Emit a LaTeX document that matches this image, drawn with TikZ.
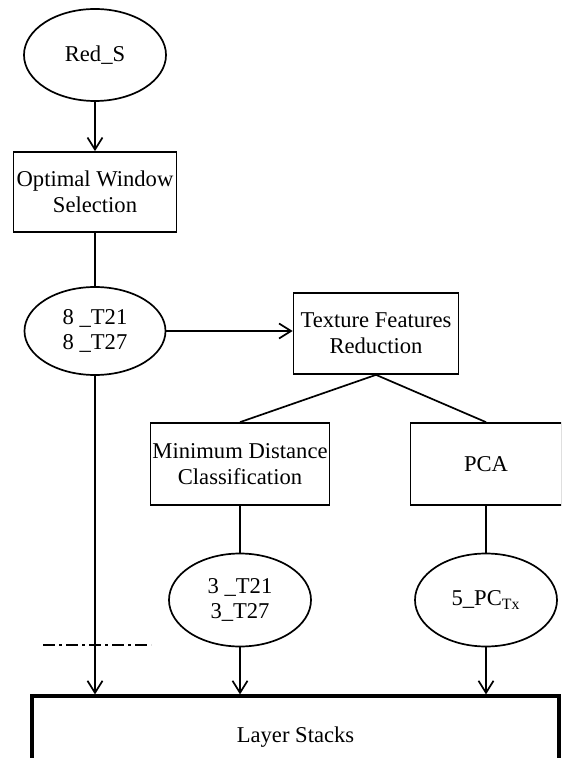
\documentclass[tikz,border=0pt]{standalone}
\usepackage{fontspec}
\setmainfont{Liberation Serif}
\usetikzlibrary{arrows.meta,shapes.geometric}

\tikzset{
  every node/.style={font=\fontsize{11.3}{12.8}\selectfont, align=center, inner sep=1pt},
  oval/.style={ellipse, draw, line width=0.85pt, minimum width=71pt, minimum height=46pt},
  procbox/.style={rectangle, draw, line width=0.85pt},
  link/.style={line width=0.85pt},
  flow/.style={link, -{Straight Barb[length=6pt,width=7.5pt,line width=0.85pt]}},
}

\begin{document}
\begin{tikzpicture}[x=0.5pt, y=-0.5pt]
  \useasboundingbox (0,0) rectangle (561,758);
  \clip (0,0) rectangle (561,758);

  % nodes
  \node[oval] (reds) at (95,55) {Red\_S};
  \node[procbox, minimum width=81.5pt, minimum height=40pt] (ows) at (95,192)
       {Optimal Window\\Selection};
  \node[oval, minimum width=70.5pt, minimum height=44pt] (t8) at (95,331)
       {8 \_T21\\8 \_T27};
  \node[procbox, minimum width=82.5pt, minimum height=40.5pt] (tfr) at (376,333.5)
       {Texture Features\\Reduction};
  \node[procbox, minimum width=87pt, minimum height=41pt] (mdc) at (240,464)
       {Minimum Distance\\Classification};
  \node[procbox, minimum width=75.5pt, minimum height=41pt] (pca) at (486,464) {PCA};
  \node[oval, minimum height=46.5pt] (t3) at (240,600) {3 \_T21\\3\_T27};
  \node[oval, minimum height=46.5pt] (pc5) at (486,600) {5\_PC\textsubscript{Tx}};
  \node[procbox, line width=1.6pt, minimum width=263.5pt, minimum height=41pt] (layer)
       at (295.5,737) {Layer Stacks};

  % dash-dot marker line
  \coordinate (dl) at (43,645);
  \coordinate (dr) at (151,645);
  \draw[link, dash pattern=on 6pt off 2pt on 1.5pt off 2pt] (dl) -- (dr);

  % connectors
  \draw[flow] (reds) -- (ows);
  \draw[link] (ows) -- (t8);
  \draw[flow] (t8) -- (tfr.west |- t8);
  \draw[link] (tfr.south) -- (mdc.north);
  \draw[link] (tfr.south) -- (pca.north);
  \draw[link] (mdc.south) -- (t3.north);
  \draw[link] (pca.south) -- (pc5.north);
  \draw[flow] (t8.south) -- (t8.south |- layer.north);
  \draw[flow] (t3.south) -- (t3.south |- layer.north);
  \draw[flow] (pc5.south) -- (pc5.south |- layer.north);
\end{tikzpicture}
\end{document}
